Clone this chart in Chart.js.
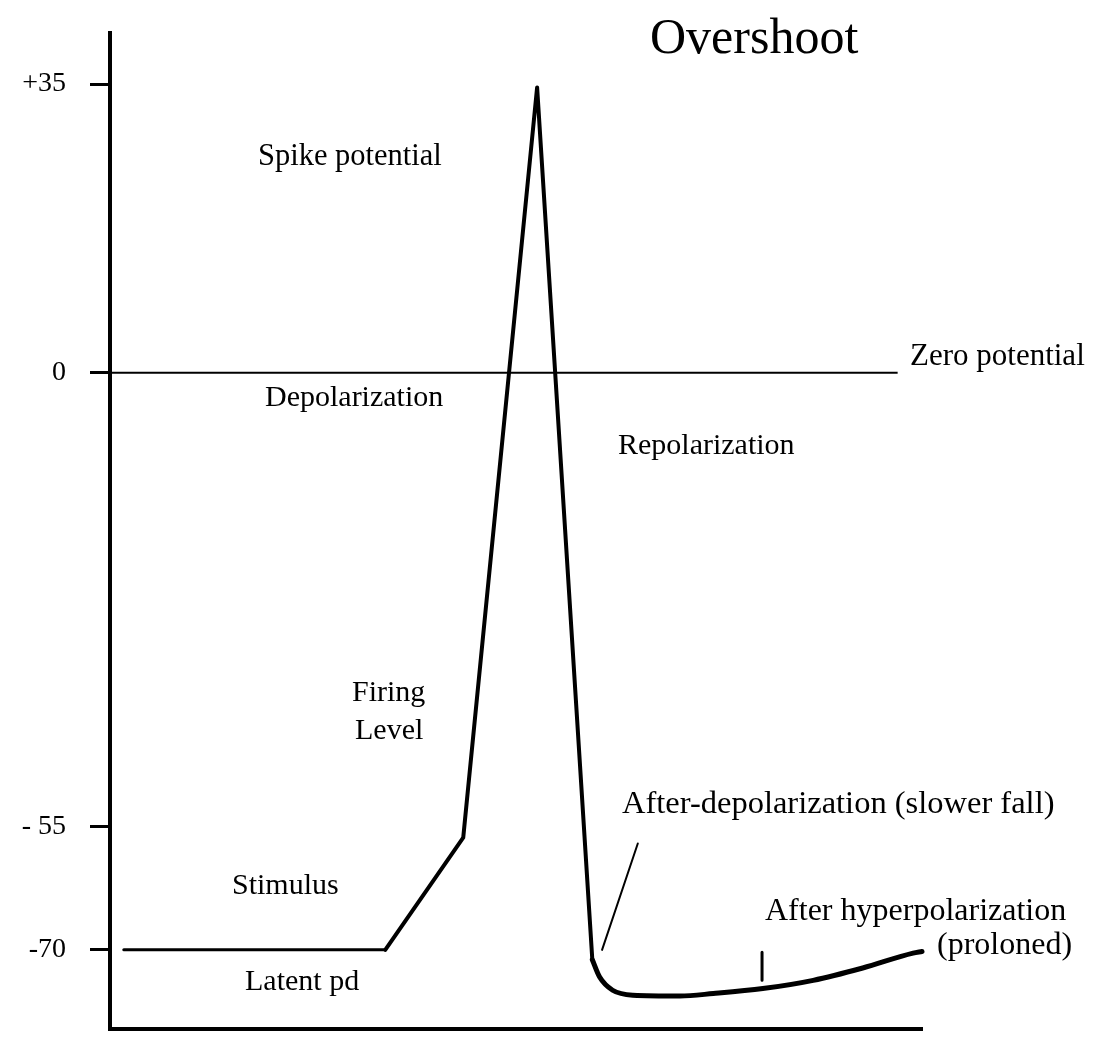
<!DOCTYPE html>
<html>
<head>
<meta charset="utf-8">
<script src="https://cdn.jsdelivr.net/npm/chart.js@4.4.1/dist/chart.umd.min.js"></script>
<style>
  html, body { margin: 0; padding: 0; background: #fff; }
  #wrap { width: 1098px; height: 1038px; }
</style>
</head>
<body>
<div id="wrap"><canvas id="apChart" width="1098" height="1038"></canvas></div>
<script>
// membrane potential (mV) against time (arbitrary units 0-100)
const yTickValues = [35, 0, -55, -70];
const yTickLabels = ["+35", "0", "- 55", "-70"];

const restingX = [1.7, 33.9];
const restingY = [-70, -70];

const spikeX = [33.9, 43.5, 52.6, 59.4];
const spikeY = [-70, -56.4, 34.6, -71.2];

const afterX = [59.4, 60.3, 61.9, 64.4, 70.2, 74.3, 80.4, 86.6, 92.7, 98.9, 100];
const afterY = [-71.2, -73.3, -74.9, -75.5, -75.6, -75.3, -74.7, -73.7, -72.2, -70.4, -70.2];

const zeroX = [0, 97];
const zeroY = [0, 0];

const pointerX = [65.0, 60.6];
const pointerY = [-57.1, -70.0];

const markX = [80.3, 80.3];
const markY = [-70.3, -73.7];

const labels = [
  { text: "Overshoot", x: 650, y: 40, size: 50 },
  { text: "Spike potential", x: 258, y: 157, size: 30.5 },
  { text: "Zero potential", x: 910, y: 357, size: 31 },
  { text: "Depolarization", x: 265, y: 398, size: 30 },
  { text: "Repolarization", x: 618, y: 446, size: 30 },
  { text: "Firing", x: 352, y: 693, size: 30 },
  { text: "Level", x: 355, y: 731, size: 30 },
  { text: "After-depolarization (slower fall)", x: 622, y: 804, size: 32.5 },
  { text: "Stimulus", x: 232, y: 886, size: 30 },
  { text: "After hyperpolarization", x: 765, y: 912, size: 32 },
  { text: "(proloned)", x: 937, y: 946, size: 32 },
  { text: "Latent pd", x: 245, y: 982, size: 30 },
];

const FONT = '"Liberation Serif", "Times New Roman", serif';

function pts(xs, ys) {
  return xs.map((x, i) => ({ x: x, y: ys[i] }));
}

function line(data, width, extra) {
  return Object.assign({
    data: data,
    borderColor: "#000",
    borderWidth: width,
    pointRadius: 0,
    tension: 0,
    clip: false,
    borderCapStyle: "round",
    borderJoinStyle: "round",
  }, extra || {});
}

const textPlugin = {
  id: "textLabels",
  afterDatasetsDraw(chart) {
    const ctx = chart.ctx;
    ctx.save();
    ctx.fillStyle = "#000";
    ctx.textAlign = "left";
    ctx.textBaseline = "middle";
    labels.forEach((l) => {
      ctx.font = `${l.size}px ${FONT}`;
      ctx.fillText(l.text, l.x, l.y);
    });
    ctx.restore();
  },
};

new Chart(document.getElementById("apChart"), {
  type: "line",
  data: {
    datasets: [
      line(pts(zeroX, zeroY), 2, { borderCapStyle: "butt" }),
      line(pts(restingX, restingY), 3),
      line(pts(spikeX, spikeY), 4),
      line(pts(afterX, afterY), 5, { cubicInterpolationMode: "monotone" }),
      line(pts(pointerX, pointerY), 2),
      line(pts(markX, markY), 3),
    ],
  },
  options: {
    responsive: false,
    animation: false,
    events: [],
    layout: { padding: { top: 33, right: 176, bottom: 0, left: 0 } },
    plugins: {
      legend: { display: false },
      tooltip: { enabled: false },
    },
    scales: {
      x: {
        type: "linear",
        min: 0,
        max: 100,
        afterFit: (scale) => {
          scale.height = 9;
          scale.paddingLeft = 0;
          scale.paddingRight = 0;
        },
        ticks: { display: false },
        grid: { display: false },
        border: { display: true, color: "#000", width: 4 },
      },
      y: {
        type: "linear",
        min: -79.6,
        max: 41.2,
        afterBuildTicks: (scale) => {
          scale.ticks = yTickValues.map((v) => ({ value: v }));
        },
        afterFit: (scale) => {
          scale.width = 110;
          scale.paddingTop = 0;
          scale.paddingBottom = 0;
        },
        ticks: {
          color: "#000",
          padding: 24,
          font: { family: FONT, size: 28 },
          callback: (value, index) => yTickLabels[index],
        },
        grid: {
          display: true,
          drawOnChartArea: false,
          drawTicks: true,
          tickLength: 20,
          tickWidth: 3,
          tickColor: "#000",
        },
        border: { display: true, color: "#000", width: 4 },
      },
    },
  },
  plugins: [textPlugin],
});
</script>
</body>
</html>
